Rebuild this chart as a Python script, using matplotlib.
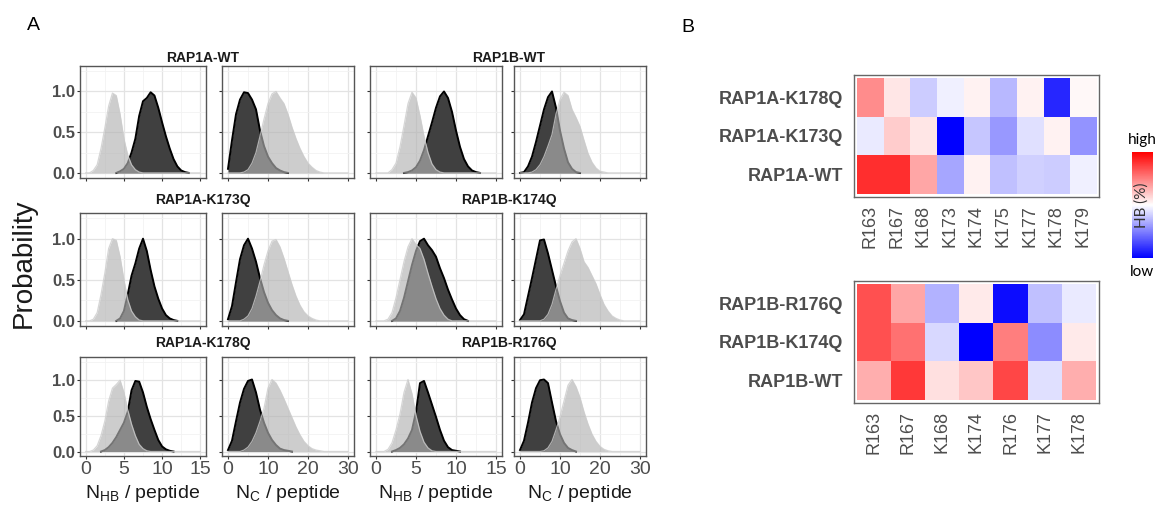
import numpy as np
import matplotlib.pyplot as plt
from matplotlib.colors import LinearSegmentedColormap

plt.rcParams['font.family'] = ['Liberation Sans', 'DejaVu Sans']

W, H = 1160, 508

# grids of the normalised distributions
nhb_x = np.arange(0, 15.5, 0.5)
nc_x = np.arange(0, 31, 1)

# ---- A: probability curves (dark / light) ----
a_wt_hb_dark = [0, 0, 0, 0, 0, 0, 0, 0, 0, .02, .05, .12, .25, .42, .70, .88, .92, .99, .95, .80, .62, .45, .30, .17, .08, .03, .01, 0, 0, 0, 0]
a_wt_hb_light = [0, 0, .03, .10, .30, .55, .82, .98, .95, .72, .42, .22, .10, .04, .01, 0, 0, 0, 0, 0, 0, 0, 0, 0, 0, 0, 0, 0, 0, 0, 0]
a_wt_nc_dark = [.05, .40, .72, .90, .99, .98, .90, .78, .52, .33, .20, .12, .06, .03, .01, 0, 0, 0, 0, 0, 0, 0, 0, 0, 0, 0, 0, 0, 0, 0, 0]
a_wt_nc_light = [0, 0, 0, 0, .01, .04, .12, .25, .45, .66, .85, .97, 1.0, .92, .85, .72, .56, .42, .30, .20, .12, .07, .03, .01, 0, 0, 0, 0, 0, 0, 0]

b_wt_hb_dark = [0, 0, 0, 0, 0, 0, 0, 0, .01, .03, .07, .15, .28, .45, .62, .80, .94, 1.0, .92, .75, .52, .32, .17, .08, .03, .01, 0, 0, 0, 0, 0]
b_wt_hb_light = [0, 0, 0, 0, .04, .12, .32, .58, .85, .99, .92, .70, .45, .25, .11, .04, .01, 0, 0, 0, 0, 0, 0, 0, 0, 0, 0, 0, 0, 0, 0]
b_wt_nc_dark = [0, .01, .08, .20, .38, .58, .78, .93, 1.0, .80, .52, .30, .13, .05, .01, 0, 0, 0, 0, 0, 0, 0, 0, 0, 0, 0, 0, 0, 0, 0, 0]
b_wt_nc_light = [0, 0, 0, .01, .04, .10, .20, .33, .47, .72, .90, .99, .95, .78, .68, .57, .40, .24, .13, .06, .02, .01, 0, 0, 0, 0, 0, 0, 0, 0, 0]

a_k173_hb_dark = [0, 0, 0, 0, 0, 0, 0, 0, 0, .03, .12, .32, .55, .70, .88, 1.0, .85, .62, .42, .27, .15, .07, .03, .01, 0, 0, 0, 0, 0, 0, 0]
a_k173_hb_light = [0, 0, .02, .10, .32, .58, .88, 1.0, .98, .78, .50, .26, .12, .05, .01, 0, 0, 0, 0, 0, 0, 0, 0, 0, 0, 0, 0, 0, 0, 0, 0]
a_k173_nc_dark = [.02, .18, .47, .75, .92, 1.0, .88, .72, .52, .35, .22, .13, .07, .03, .01, 0, 0, 0, 0, 0, 0, 0, 0, 0, 0, 0, 0, 0, 0, 0, 0]
a_k173_nc_light = [0, 0, 0, 0, .02, .06, .15, .30, .48, .68, .85, .97, .99, .90, .76, .60, .44, .30, .19, .11, .06, .03, .01, 0, 0, 0, 0, 0, 0, 0, 0]

b_k174_hb_dark = [0, 0, 0, 0, 0, .03, .12, .28, .48, .68, .85, .97, 1.0, .92, .86, .78, .64, .52, .38, .26, .15, .07, .02, 0, 0, 0, 0, 0, 0, 0, 0]
b_k174_hb_light = [0, 0, 0, .02, .10, .28, .50, .72, .90, 1.0, .93, .88, .75, .58, .42, .27, .15, .07, .02, 0, 0, 0, 0, 0, 0, 0, 0, 0, 0, 0, 0]
b_k174_nc_dark = [.01, .08, .30, .52, .75, .98, .99, .82, .62, .42, .24, .10, .03, .01, 0, 0, 0, 0, 0, 0, 0, 0, 0, 0, 0, 0, 0, 0, 0, 0, 0]
b_k174_nc_light = [0, 0, 0, 0, 0, 0, .02, .08, .20, .38, .55, .70, .85, .96, 1.0, .88, .72, .65, .55, .45, .32, .20, .12, .06, .03, .01, 0, 0, 0, 0, 0]

a_k178_hb_dark = [0, 0, 0, 0, 0, .02, .06, .12, .20, .30, .40, .55, .85, .98, .97, .82, .62, .45, .30, .16, .07, .03, .01, 0, 0, 0, 0, 0, 0, 0, 0]
a_k178_hb_light = [0, 0, .02, .08, .22, .42, .70, .88, .93, .99, .82, .58, .38, .22, .10, .04, .01, 0, 0, 0, 0, 0, 0, 0, 0, 0, 0, 0, 0, 0, 0]
a_k178_nc_dark = [.02, .15, .42, .68, .87, .98, 1.0, .82, .58, .40, .26, .16, .09, .04, .02, .01, 0, 0, 0, 0, 0, 0, 0, 0, 0, 0, 0, 0, 0, 0, 0]
a_k178_nc_light = [0, 0, 0, 0, .02, .06, .14, .26, .42, .60, .88, 1.0, .95, .85, .73, .60, .47, .34, .23, .14, .08, .04, .02, .01, 0, 0, 0, 0, 0, 0, 0]

b_r176_hb_dark = [0, 0, 0, 0, 0, .02, .05, .10, .18, .30, .55, .95, .98, .82, .65, .48, .30, .15, .06, .02, .01, 0, 0, 0, 0, 0, 0, 0, 0, 0, 0]
b_r176_hb_light = [0, 0, 0, .03, .12, .30, .52, .82, 1.0, .80, .50, .28, .13, .05, .01, 0, 0, 0, 0, 0, 0, 0, 0, 0, 0, 0, 0, 0, 0, 0, 0]
b_r176_nc_dark = [.02, .15, .40, .68, .88, .99, 1.0, .95, .68, .42, .24, .12, .05, .02, 0, 0, 0, 0, 0, 0, 0, 0, 0, 0, 0, 0, 0, 0, 0, 0, 0]
b_r176_nc_light = [0, 0, 0, 0, 0, 0, .01, .05, .14, .30, .48, .70, .92, 1.0, .90, .75, .55, .38, .24, .14, .07, .03, .01, 0, 0, 0, 0, 0, 0, 0, 0]

# ---- B: heatmaps (relative HB, -1 = low, 1 = high) ----
top_rows = ['RAP1A-K178Q', 'RAP1A-K173Q', 'RAP1A-WT']
top_cols = ['R163', 'R167', 'K168', 'K173', 'K174', 'K175', 'K177', 'K178', 'K179']
top_vals = [
    [0.45, 0.10, -0.20, -0.06, 0.05, -0.28, 0.05, -0.85, 0.03],
    [-0.08, 0.20, 0.10, -1.00, -0.22, -0.40, -0.12, 0.05, -0.42],
    [0.82, 0.82, 0.35, -0.35, 0.05, -0.25, -0.18, -0.20, -0.06],
]
bot_rows = ['RAP1B-R176Q', 'RAP1B-K174Q', 'RAP1B-WT']
bot_cols = ['R163', 'R167', 'K168', 'K174', 'R176', 'K177', 'K178']
bot_vals = [
    [0.68, 0.35, -0.30, 0.08, -0.95, -0.25, -0.08],
    [0.68, 0.55, -0.15, -1.00, 0.50, -0.45, 0.08],
    [0.32, 0.78, 0.12, 0.22, 0.72, -0.12, 0.32],
]

grid_rows = [
    [('RAP1A-WT', a_wt_hb_dark, a_wt_hb_light, a_wt_nc_dark, a_wt_nc_light),
     ('RAP1B-WT', b_wt_hb_dark, b_wt_hb_light, b_wt_nc_dark, b_wt_nc_light)],
    [('RAP1A-K173Q', a_k173_hb_dark, a_k173_hb_light, a_k173_nc_dark, a_k173_nc_light),
     ('RAP1B-K174Q', b_k174_hb_dark, b_k174_hb_light, b_k174_nc_dark, b_k174_nc_light)],
    [('RAP1A-K178Q', a_k178_hb_dark, a_k178_hb_light, a_k178_nc_dark, a_k178_nc_light),
     ('RAP1B-R176Q', b_r176_hb_dark, b_r176_hb_light, b_r176_nc_dark, b_r176_nc_light)],
]

fig = plt.figure(figsize=(W / 100, H / 100), dpi=100)


def box(l, t, r, b):
    return [l / W, 1 - b / H, (r - l) / W, (b - t) / H]


def fpos(x, y):
    return x / W, 1 - y / H


def draw_dist(ax, x, dark, light):
    dark = np.asarray(dark, float)
    light = np.asarray(light, float)
    ax.fill_between(x, dark, color='#404040', lw=0, zorder=2)
    nz = np.nonzero(dark)[0]
    i0, i1 = max(nz[0] - 1, 0), min(nz[-1] + 2, len(x))
    ax.plot(x[i0:i1], dark[i0:i1], color='black', lw=1.4, zorder=3)
    ax.fill_between(x, light, color='#b3b3b3', alpha=0.65, lw=0, zorder=4)
    ax.plot(x, light, color='#cccccc', lw=0.9, alpha=0.8, zorder=4)


rows_px = [(66, 178), (213, 326), (357, 456)]
cols_px = [(80, 206), (222, 354), (370, 502), (514, 646)]
title_x = [203, 509]
title_y = [58, 200, 343]

for r, row in enumerate(grid_rows):
    top, bot = rows_px[r]
    for g, (name, hbd, hbl, ncd, ncl) in enumerate(row):
        fig.text(*fpos(title_x[g], title_y[r]), name, ha='center', va='center',
                 fontsize=10, fontweight='bold', color='#1a1a1a')
        for k in range(2):
            c = 2 * g + k
            ax = fig.add_axes(box(cols_px[c][0], top, cols_px[c][1], bot))
            if k == 0:
                draw_dist(ax, nhb_x, hbd, hbl)
                ax.set_xlim(-0.75, 15.75)
                ax.set_xticks([0, 5, 10, 15])
                ax.set_xticks([2.5, 7.5, 12.5], minor=True)
            else:
                draw_dist(ax, nc_x, ncd, ncl)
                ax.set_xlim(-1.5, 31.5)
                ax.set_xticks([0, 10, 20, 30])
                ax.set_xticks([5, 15, 25], minor=True)
            ax.set_ylim(-0.0625, 1.3125)
            ax.set_yticks([0, 0.5, 1.0])
            ax.set_yticks([0.25, 0.75, 1.25], minor=True)
            ax.set_yticklabels(['0.0', '0.5', '1.0'])
            ax.set_axisbelow(True)
            ax.grid(which='major', color='#e3e3e3', lw=0.9)
            ax.grid(which='minor', color='#f2f2f2', lw=0.6)
            ax.tick_params(which='major', length=2.5, width=0.8, color='#333333', pad=1)
            ax.tick_params(which='minor', length=0)
            ax.tick_params(axis='y', labelsize=12, labelcolor='#4d4d4d')
            ax.tick_params(axis='x', labelsize=14, labelcolor='#4d4d4d')
            for lab in ax.get_yticklabels():
                lab.set_fontweight('bold')
            if c != 0:
                ax.tick_params(axis='y', labelleft=False)
            if r != 2:
                ax.tick_params(axis='x', labelbottom=False)
            for s in ax.spines.values():
                s.set_color('#555555')
                s.set_linewidth(1.0)
            if r == 2:
                xc = (cols_px[c][0] + cols_px[c][1]) / 2
                lab = r'$\mathregular{N_{HB}}$ / peptide' if k == 0 else r'$\mathregular{N_{C}}$ / peptide'
                fig.text(*fpos(xc, 494), lab, ha='center', va='center', fontsize=14, color='#1a1a1a')

fig.text(*fpos(24, 263), 'Probability', rotation=90, ha='center', va='center', fontsize=20, color='#1a1a1a')
fig.text(*fpos(33, 26), 'A', ha='center', va='center', fontsize=14)
fig.text(*fpos(688, 27), 'B', ha='center', va='center', fontsize=14)

# ---- heatmaps ----
cmap = LinearSegmentedColormap.from_list('hb', ['#0000ff', '#ffffff', '#ff0000'])


def heat(bx, rows, cols, vals):
    ax = fig.add_axes(box(*bx))
    im = ax.imshow(np.array(vals), cmap=cmap, vmin=-1, vmax=1, aspect='auto')
    ax.set_xlim(-0.6, len(cols) - 0.4)
    ax.set_ylim(len(rows) - 0.42, -0.58)
    ax.set_xticks(range(len(cols)))
    ax.set_xticklabels(cols, rotation=90, fontsize=13, color='#4d4d4d')
    ax.set_yticks(range(len(rows)))
    ax.set_yticklabels(rows, fontsize=13, fontweight='bold', color='#4d4d4d')
    ax.tick_params(length=0, pad=6)
    ax.tick_params(axis='y', pad=8)
    for s in ax.spines.values():
        s.set_color('#666666')
        s.set_linewidth(1.0)
    return im


im = heat((854, 75, 1099, 197), top_rows, top_cols, top_vals)
heat((854, 281, 1099, 403), bot_rows, bot_cols, bot_vals)

cax = fig.add_axes(box(1132, 152, 1153, 258))
cb = fig.colorbar(im, cax=cax)
cb.set_ticks([])
cb.outline.set_visible(False)
fig.text(*fpos(1142, 140), 'high', ha='center', va='center', fontsize=11, family=['Lato', 'DejaVu Sans'])
fig.text(*fpos(1142, 272), 'low', ha='center', va='center', fontsize=11, family=['Lato', 'DejaVu Sans'])
fig.text(*fpos(1142, 205), 'HB (%)', rotation=90, ha='center', va='center', fontsize=11,
         color='#333333', family=['Lato', 'DejaVu Sans'])

fig.savefig('out.png', dpi=100)
